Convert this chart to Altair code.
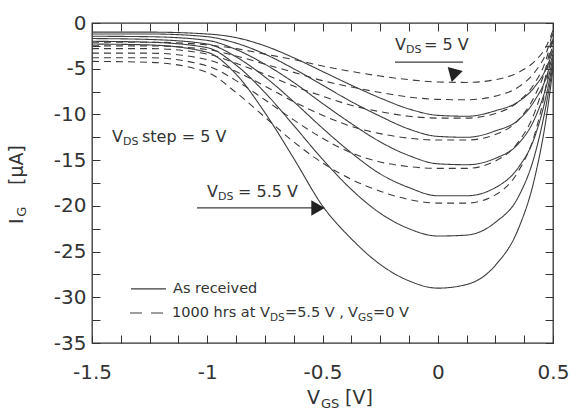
import altair as alt
import pandas as pd

# ---------------- data ----------------
V_GS = [-1.5, -1.25, -1.0, -0.875, -0.75, -0.625, -0.5, -0.375, -0.25,
        -0.125, 0.0, 0.125, 0.25, 0.35, 0.42, 0.47, 0.5]

# "As received" curves (solid), from smallest to largest V_DS
as_received = [
    [-1.0, -1.0, -1.2, -1.6, -2.5, -3.8, -5.3, -6.8, -8.2, -9.4, -10.1, -10.2, -9.6, -8.6, -7.0, -5.0, -3.0],
    [-1.2, -1.2, -1.5, -2.2, -3.4, -5.0, -6.8, -8.6, -10.2, -11.6, -12.4, -12.5, -11.8, -10.6, -8.5, -6.0, -3.4],
    [-1.45, -1.5, -1.9, -2.9, -4.5, -6.5, -8.8, -11.0, -13.0, -14.5, -15.4, -15.5, -14.8, -13.2, -10.5, -7.0, -3.8],
    [-1.7, -1.8, -2.3, -3.7, -5.9, -8.6, -11.5, -14.2, -16.5, -18.0, -18.9, -18.9, -18.0, -15.8, -12.5, -8.0, -4.2],
    [-2.0, -2.1, -2.7, -4.6, -7.6, -11.2, -14.9, -18.2, -20.8, -22.5, -23.3, -23.2, -21.8, -19.0, -14.5, -9.0, -4.6],
    [-2.3, -2.4, -3.2, -5.6, -9.8, -14.8, -20.0, -23.6, -26.4, -28.2, -29.0, -28.6, -26.5, -22.5, -17.0, -10.5, -5.0],
]

# "1000 hrs at VDS=5.5 V, VGS=0 V" curves (dashed)
stressed = [
    [-2.1, -2.1, -2.4, -2.8, -3.4, -4.0, -4.7, -5.3, -5.8, -6.2, -6.45, -6.5, -6.2, -5.4, -4.2, -2.6, -0.8],
    [-2.5, -2.5, -2.9, -3.6, -4.5, -5.4, -6.3, -7.0, -7.6, -8.1, -8.35, -8.4, -8.0, -7.0, -5.4, -3.3, -1.0],
    [-2.8, -2.8, -3.4, -4.4, -5.6, -6.9, -8.0, -9.0, -9.7, -10.2, -10.4, -10.4, -9.9, -8.6, -6.6, -4.0, -1.2],
    [-3.3, -3.3, -4.0, -5.3, -6.9, -8.6, -10.1, -11.3, -12.1, -12.6, -12.8, -12.8, -12.2, -10.6, -8.0, -4.8, -1.4],
    [-3.8, -3.8, -4.7, -6.3, -8.4, -10.6, -12.6, -14.2, -15.2, -15.7, -15.9, -15.9, -15.1, -13.0, -9.8, -5.6, -1.6],
    [-4.2, -4.3, -5.4, -7.6, -10.3, -13.0, -15.3, -17.1, -18.4, -19.3, -19.7, -19.7, -18.8, -16.2, -12.2, -6.8, -1.8],
]

X_TICKS = [-1.5 + 0.125 * i for i in range(17)]
Y_TICKS = [-2.5 * i for i in range(15)]

# ---------------- build tables ----------------
rows = []
for k, ser in enumerate(as_received):
    for v, i in zip(V_GS, ser):
        rows.append({"V": v, "I": i, "curve": f"s{k}", "kind": "As received"})
for k, ser in enumerate(stressed):
    for v, i in zip(V_GS, ser):
        rows.append({"V": v, "I": i, "curve": f"d{k}", "kind": "1000 hrs"})
curves = pd.DataFrame(rows)

# annotation texts anchored in data units (V, uA)
texts = pd.DataFrame([
    # V_DS = 5 V
    {"t": "V", "x": -0.1855, "y": -2.41, "s": 16, "a": 0},
    {"t": "DS", "x": -0.1377, "y": -2.95, "s": 11, "a": 0},
    {"t": "= 5 V", "x": -0.0597, "y": -2.41, "s": 16, "a": 0},
    # V_DS step = 5 V
    {"t": "V", "x": -1.4132, "y": -12.47, "s": 16, "a": 0},
    {"t": "DS", "x": -1.3655, "y": -13.02, "s": 11, "a": 0},
    {"t": "step  = 5 V", "x": -1.2831, "y": -12.47, "s": 16, "a": 0},
    # V_DS = 5.5 V
    {"t": "V", "x": -1.0011, "y": -18.48, "s": 16, "a": 0},
    {"t": "DS", "x": -0.9534, "y": -19.03, "s": 11, "a": 0},
    {"t": "= 5.5 V", "x": -0.8666, "y": -18.48, "s": 16, "a": 0},
    # legend
    {"t": "As received", "x": -1.1486, "y": -29.09, "s": 14.5, "a": 0},
    {"t": "1000 hrs at ", "x": -1.1529, "y": -31.72, "s": 14.5, "a": 0},
    {"t": "V", "x": -0.7711, "y": -31.72, "s": 14.5, "a": 0},
    {"t": "DS", "x": -0.7278, "y": -32.27, "s": 10.5, "a": 0},
    {"t": "=5.5 V ,", "x": -0.6627, "y": -31.72, "s": 14.5, "a": 0},
    {"t": "V", "x": -0.3894, "y": -31.72, "s": 14.5, "a": 0},
    {"t": "GS", "x": -0.3460, "y": -32.27, "s": 10.5, "a": 0},
    {"t": "=0 V", "x": -0.2809, "y": -31.72, "s": 14.5, "a": 0},
    # axis titles
    {"t": "I", "x": -1.8254, "y": -21.98, "s": 19, "a": 270},
    {"t": "G", "x": -1.8037, "y": -21.20, "s": 13, "a": 270},
    {"t": "[\u03bcA]", "x": -1.8254, "y": -17.72, "s": 19, "a": 270},
    {"t": "V", "x": -0.5672, "y": -41.02, "s": 19, "a": 0},
    {"t": "GS", "x": -0.5065, "y": -41.67, "s": 13, "a": 0},
    {"t": "[V]", "x": -0.4024, "y": -41.02, "s": 19, "a": 0},
])

arrow_lines = pd.DataFrame([
    {"x": -0.1855, "x2": 0.110, "y": -4.27},     # under "VDS = 5 V"
    {"x": -1.0445, "x2": -0.540, "y": -20.23},   # VDS = 5.5 V arrow
    {"x": -1.3308, "x2": -1.179, "y": -29.09},   # legend solid
])
legend_dash = pd.DataFrame([{"x": -1.3351, "x2": -1.192, "y": -31.72}])
heads = pd.DataFrame([
    {"x": 0.080, "y": -5.45, "ang": 345},
    {"x": -0.5195, "y": -20.23, "ang": 0},
])

# ---------------- styling ----------------
FONT = "DejaVu Sans"
INK = "#333333"
LINE = "#3c3c3c"

xs = alt.Scale(domain=[-1.5, 0.5], nice=False, zero=False)
ys = alt.Scale(domain=[-35, 0], nice=False, zero=False)

x_lab_expr = "abs(datum.value*2 - round(datum.value*2)) < 0.001 ? ('' + datum.value) : ''"
y_lab_expr = "datum.value % 5 == 0 ? ('' + datum.value) : ''"

x_axis = alt.Axis(values=X_TICKS, labelExpr=x_lab_expr, title=None, grid=False,
                  domain=False, tickSize=alt.ExprRef("-8"), tickColor=INK, tickWidth=1,
                  labelFont=FONT, labelFontSize=20, labelColor=INK, labelPadding=27,
                  labelOverlap=False, labelFlush=False)
y_axis = alt.Axis(values=Y_TICKS, labelExpr=y_lab_expr, title=None, grid=False,
                  domain=False, tickSize=alt.ExprRef("-8"), tickColor=INK, tickWidth=1,
                  labelFont=FONT, labelFontSize=20, labelColor=INK, labelPadding=14,
                  labelOverlap=False, labelFlush=False)
x_top = alt.Axis(values=X_TICKS, orient="top", labels=False, title=None, grid=False,
                 domain=False, tickSize=alt.ExprRef("-8"), tickColor=INK)
y_right = alt.Axis(values=Y_TICKS, orient="right", labels=False, title=None, grid=False,
                   domain=False, tickSize=alt.ExprRef("-8"), tickColor=INK)

lines = alt.Chart(curves).mark_line(strokeWidth=1.1, color=LINE, interpolate="monotone").encode(
    x=alt.X("V:Q", scale=xs, axis=x_axis),
    y=alt.Y("I:Q", scale=ys, axis=y_axis),
    detail="curve:N",
    strokeDash=alt.StrokeDash("kind:N", scale=alt.Scale(domain=["As received", "1000 hrs"],
                                                         range=[[1, 0], [7, 5]]), legend=None),
)

frame_ticks = alt.Chart(curves).mark_point(opacity=0).encode(
    x=alt.X("V:Q", scale=xs, axis=x_top),
    y=alt.Y("I:Q", scale=ys, axis=y_right),
)

rules = alt.Chart(arrow_lines).mark_rule(color=LINE, strokeWidth=1.2).encode(
    x=alt.X("x:Q", scale=xs, axis=None), x2="x2:Q", y=alt.Y("y:Q", scale=ys, axis=None))
dash_rule = alt.Chart(legend_dash).mark_rule(color=LINE, strokeWidth=1.2, strokeDash=[12, 9]).encode(
    x=alt.X("x:Q", scale=xs, axis=None), x2="x2:Q", y=alt.Y("y:Q", scale=ys, axis=None))
arrowheads = alt.Chart(heads).mark_point(shape="triangle-right", filled=True, size=240,
                                         color="#222222", opacity=1).encode(
    x=alt.X("x:Q", scale=xs, axis=None), y=alt.Y("y:Q", scale=ys, axis=None),
    angle=alt.Angle("ang:Q", scale=None))

labels = alt.Chart(texts).mark_text(align="left", baseline="middle", font=FONT, color=INK).encode(
    x=alt.X("x:Q", scale=xs, axis=None), y=alt.Y("y:Q", scale=ys, axis=None),
    text="t:N", size=alt.Size("s:Q", scale=None), angle=alt.Angle("a:Q", scale=None))

chart = alt.layer(lines, frame_ticks, rules, dash_rule, arrowheads, labels).resolve_axis(
    x="independent", y="independent"
).properties(
    width=461, height=320,
    autosize=alt.AutoSizeParams(type="none"),
    padding={"left": 92, "top": 23, "right": 25, "bottom": 67},
    background="white",
).configure_view(stroke=INK, strokeWidth=1.3)

chart.save("out.html", embed_options={"renderer": "svg", "actions": False})
